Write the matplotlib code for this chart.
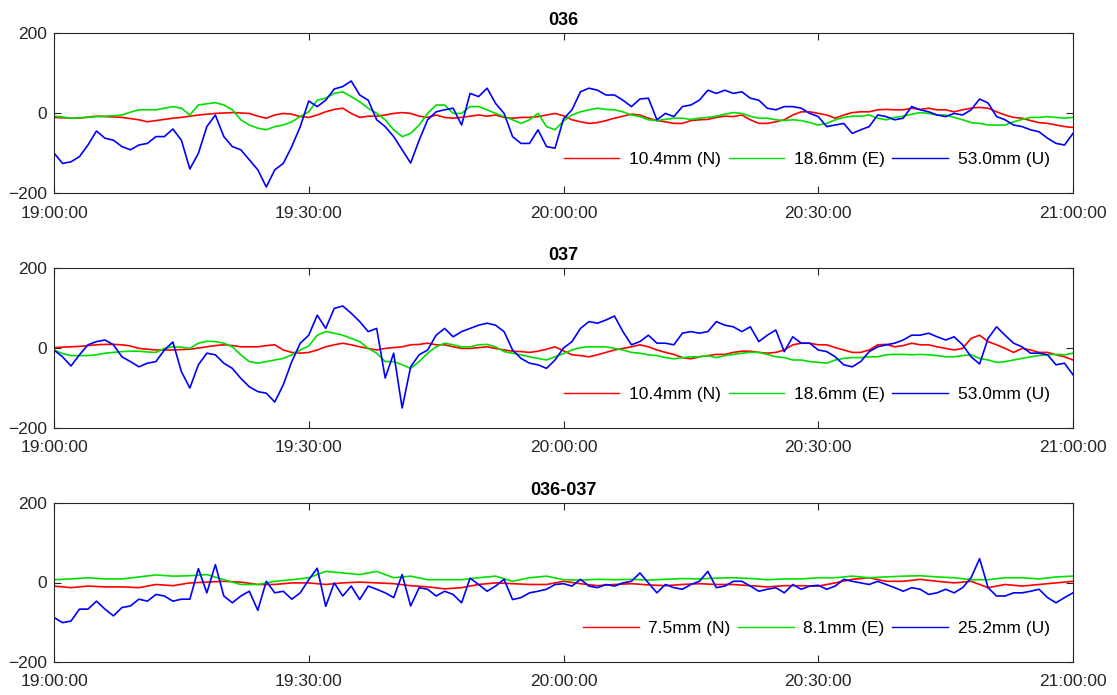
import numpy as np
import matplotlib
matplotlib.use("Agg")
import matplotlib.pyplot as plt

plt.rcParams['font.family'] = ['Liberation Sans', 'DejaVu Sans']

# Time axis in minutes after 19:00:00
tick_minutes = [0, 30, 60, 90, 120]
tick_labels = ["19:00:00", "19:30:00", "20:00:00", "20:30:00", "21:00:00"]
t_1min = np.arange(0, 121, 1)
t_2min = np.arange(0, 121, 2)

titles = ["036", "037", "036-037"]
legend_labels = [
    ["10.4mm (N)", "18.6mm (E)", "53.0mm (U)"],
    ["10.4mm (N)", "18.6mm (E)", "53.0mm (U)"],
    ["7.5mm (N)", "8.1mm (E)", "25.2mm (U)"],
]

# ---- station 036 (mm) ----
n036 = [-11, -12, -13, -13, -10, -8, -9, -10, -11, -14, -17, -22, -19, -16, -13, -11, -8, -5, -3, -1,
        0, 1, 0, -1, -8, -13, -5, -1, -3, -9, -11, -5, 3, 9, 12, -1, -11, -8, -8, -5,
        -1, 1, -1, -8, -11, -5, -11, -13, -11, -8, -5, -8, -5, -11, -13, -11, -11, -9, -5, -1,
        -7, -17, -22, -26, -24, -19, -13, -8, -3, -5, -13, -19, -22, -26, -26, -19, -17, -16, -11, -8,
        -9, -5, -17, -26, -26, -22, -17, -5, 3, 3, -1, -5, -13, -5, 1, 3, 3, 8, 9, 8,
        8, 12, 9, 12, 8, 8, 3, 8, 12, 14, 12, 3, -5, -11, -13, -19, -24, -26, -30, -34, -36]
e036 = [-8, -10, -13, -12, -11, -9, -8, -7, -5, 2, 8, 8, 8, 12, 16, 12, -5, 20, 23, 26,
        20, 8, -17, -30, -38, -42, -34, -30, -22, -9, 3, 32, 37, 49, 53, 41, 28, 12, -1, -17,
        -42, -59, -51, -30, -1, 20, 20, -1, -1, 16, 16, 8, -1, -9, -17, -26, -17, -1, -34, -42,
        -20, -5, 3, 8, 12, 9, 8, 3, -5, -9, -17, -19, -16, -13, -13, -16, -13, -11, -8, -3,
        1, -1, -8, -13, -13, -17, -19, -17, -19, -24, -30, -26, -17, -11, -8, -8, -5, -13, -17, -11,
        -8, -3, 1, -1, -5, -5, -11, -17, -24, -26, -30, -30, -30, -22, -16, -11, -11, -9, -11, -13, -11]
u036 = [-100, -126, -122, -109, -80, -45, -63, -68, -84, -92, -80, -76, -59, -59, -40, -68, -140, -101, -34, -5,
        -59, -84, -92, -117, -142, -185, -142, -126, -84, -34, 30, 16, 32, 60, 66, 80, 45, 32, -17, -34,
        -59, -92, -125, -68, -17, 3, 8, 12, -30, 49, 41, 62, 24, -1, -59, -76, -76, -42, -84, -88,
        -15, 8, 53, 62, 57, 45, 45, 32, 16, 35, 37, -17, -1, -9, 16, 20, 32, 57, 49, 57,
        49, 53, 37, 32, 12, 8, 16, 16, 12, -1, -9, -34, -30, -26, -51, -42, -34, -5, -9, -17,
        -13, 16, 8, 3, -5, -9, -1, -5, 8, 35, 25, -9, -17, -30, -34, -42, -47, -63, -76, -80, -51]

# ---- station 037 (mm) ----
n037 = [1, 2, 3, 4, 6, 8, 9, 9, 8, 5, -1, -3, -5, -5, -5, -4, -3, 0, 3, 6,
        8, 6, 3, 3, 3, 6, 8, -5, -11, -13, -11, -5, 3, 8, 12, 8, 3, -1, -5, -1,
        1, 3, 8, 9, 12, 8, 8, 3, -1, -1, 1, 3, -1, -5, -8, -9, -11, -8, -3, 3,
        -7, -17, -19, -22, -17, -11, -5, -1, 3, 8, 3, -5, -11, -16, -24, -27, -22, -19, -16, -16,
        -11, -8, -8, -11, -13, -11, -5, 8, 12, 12, 8, 8, 1, -5, -11, -11, -5, 8, 9, 3,
        6, 12, 8, 8, 3, -1, -5, -1, 24, 32, 16, 8, -1, -11, -1, -5, -11, -11, -17, -22, -30]
e037 = [-5, -14, -19, -19, -19, -17, -13, -11, -9, -8, -8, -10, -11, -1, 3, 2, -1, 12, 17, 16,
        12, 3, -17, -34, -38, -34, -30, -26, -17, -5, 5, 32, 41, 37, 32, 24, 16, -1, -13, -34,
        -34, -42, -51, -34, -13, 3, 12, 8, 3, 3, 8, 9, 3, -9, -13, -17, -22, -26, -30, -22,
        -14, -5, 1, 3, 3, 3, -1, -5, -11, -13, -17, -19, -24, -27, -24, -22, -22, -19, -24, -19,
        -16, -13, -11, -11, -16, -22, -24, -30, -30, -34, -36, -38, -30, -26, -24, -24, -22, -22, -17, -16,
        -16, -17, -16, -17, -19, -22, -22, -19, -17, -26, -30, -36, -34, -30, -26, -22, -19, -17, -16, -17, -13]
u037 = [-5, -22, -45, -17, 8, 16, 20, 8, -22, -34, -47, -38, -34, -5, 15, -59, -100, -42, -13, -17,
        -38, -51, -76, -97, -109, -113, -135, -92, -34, 12, 32, 82, 49, 99, 105, 87, 66, 41, 49, -75,
        -13, -150, -47, -17, -5, 32, 49, 28, 41, 49, 57, 62, 57, 41, -5, -26, -38, -42, -51, -30,
        0, 16, 49, 66, 62, 70, 80, 41, 8, 16, 32, 12, 12, 8, 37, 41, 37, 41, 66, 57,
        53, 41, 53, 16, 32, 45, -9, 28, 12, 12, -5, -9, -22, -42, -47, -34, -9, 3, 8, 12,
        20, 32, 32, 37, 28, 20, 28, 8, -22, -40, 24, 53, 32, 12, 3, -13, -13, -17, -42, -38, -67]

# ---- baseline 036-037 (mm) ----
n_diff = [-9, -13, -9, -11, -11, -13, -5, -8, -1, 1, 3, 1, -5, -5, -1, -1, -5, -1, 1, -1,
          -3, -8, -11, -16, -13, -5, -1, -3, -5, -5, 3, -3, -8, -5, -3, -6, -8, -5, -3, -5,
          -5, -8, -11, -8, -8, -9, -1, 8, 12, 3, 3, 8, 3, -1, 3, -13, -5, -9, -5, -1, 3]
e_diff = [7, 9, 12, 9, 9, 14, 19, 16, 17, 20, 7, -5, -5, 3, 7, 12, 28, 24, 20, 28,
          12, 16, 7, 7, 7, 12, 16, 3, 12, 16, 7, 6, 8, 7, 8, 6, 8, 10, 9, 11,
          12, 10, 7, 9, 9, 12, 12, 16, 12, 14, 16, 17, 14, 12, 7, 7, 12, 12, 9, 14, 16]
u_diff = [-88, -101, -97, -67, -67, -47, -67, -84, -63, -59, -42, -47, -30, -34, -47, -42, -42, 35, -26, 45,
          -34, -51, -34, -22, -70, 3, -26, -22, -42, -26, 7, 36, -60, -1, -34, -9, -43, -9, -17, -26,
          -38, 20, -59, -13, -17, -34, -22, -30, -51, 11, -5, -22, -9, 8, -43, -38, -26, -22, -17, -5,
          -3, -9, 8, -9, -13, -5, -9, -1, 3, 24, -1, -26, -5, -13, -17, -5, 3, 28, -13, -9,
          3, 3, -9, -22, -17, -13, -26, -5, -17, -9, -7, -17, -9, 8, 3, -1, -5, 3, -5, -13,
          -22, -13, -17, -30, -26, -17, -26, -13, 12, 60, -13, -34, -34, -26, -26, -22, -17, -38, -51, -38, -26]

panels = [
    (t_1min, n036, t_1min, e036, t_1min, u036),
    (t_1min, n037, t_1min, e037, t_1min, u037),
    (t_2min, n_diff, t_2min, e_diff, t_1min, u_diff),
]

colors = ["#ff0000", "#00e000", "#0000ff"]

fig = plt.figure(figsize=(11.17, 6.95), dpi=100)
W, H = 1117, 695
boxes = [(54, 33, 1073, 193), (54, 268, 1073, 428), (54, 503, 1073, 662)]

for i, (box, data) in enumerate(zip(boxes, panels)):
    x0, y0, x1, y1 = box
    ax = fig.add_axes([x0 / W, 1 - y1 / H, (x1 - x0) / W, (y1 - y0) / H])
    tn, vn, te, ve, tu, vu = data
    lines = []
    lines += ax.plot(tn, vn, color=colors[0], lw=1.2)
    lines += ax.plot(te, ve, color=colors[1], lw=1.2)
    lines += ax.plot(tu, vu, color=colors[2], lw=1.2)
    ax.set_xlim(0, 120)
    ax.set_ylim(-200, 200)
    ax.set_xticks(tick_minutes)
    ax.set_xticklabels(tick_labels)
    ax.set_yticks([-200, 0, 200])
    ax.tick_params(direction="in", length=5, width=0.8, top=True, right=True,
                   labelsize=12.5, colors="#262626")
    ax.tick_params(axis="x", pad=9)
    ax.tick_params(axis="y", pad=5)
    for s in ax.spines.values():
        s.set_color("#262626")
        s.set_linewidth(0.8)
    ax.set_title(titles[i], fontsize=13, fontweight="bold", pad=6)
    leg = ax.legend(lines, legend_labels[i], loc="center right", bbox_to_anchor=(0.977, 0.212),
                    ncol=3, frameon=False, fontsize=12.5, handlelength=3.2, handletextpad=0.55,
                    columnspacing=0.45, borderpad=0, borderaxespad=0)
    for h in leg.get_lines():
        h.set_linewidth(1.0)

fig.savefig("out.png", dpi=100, facecolor="white")
